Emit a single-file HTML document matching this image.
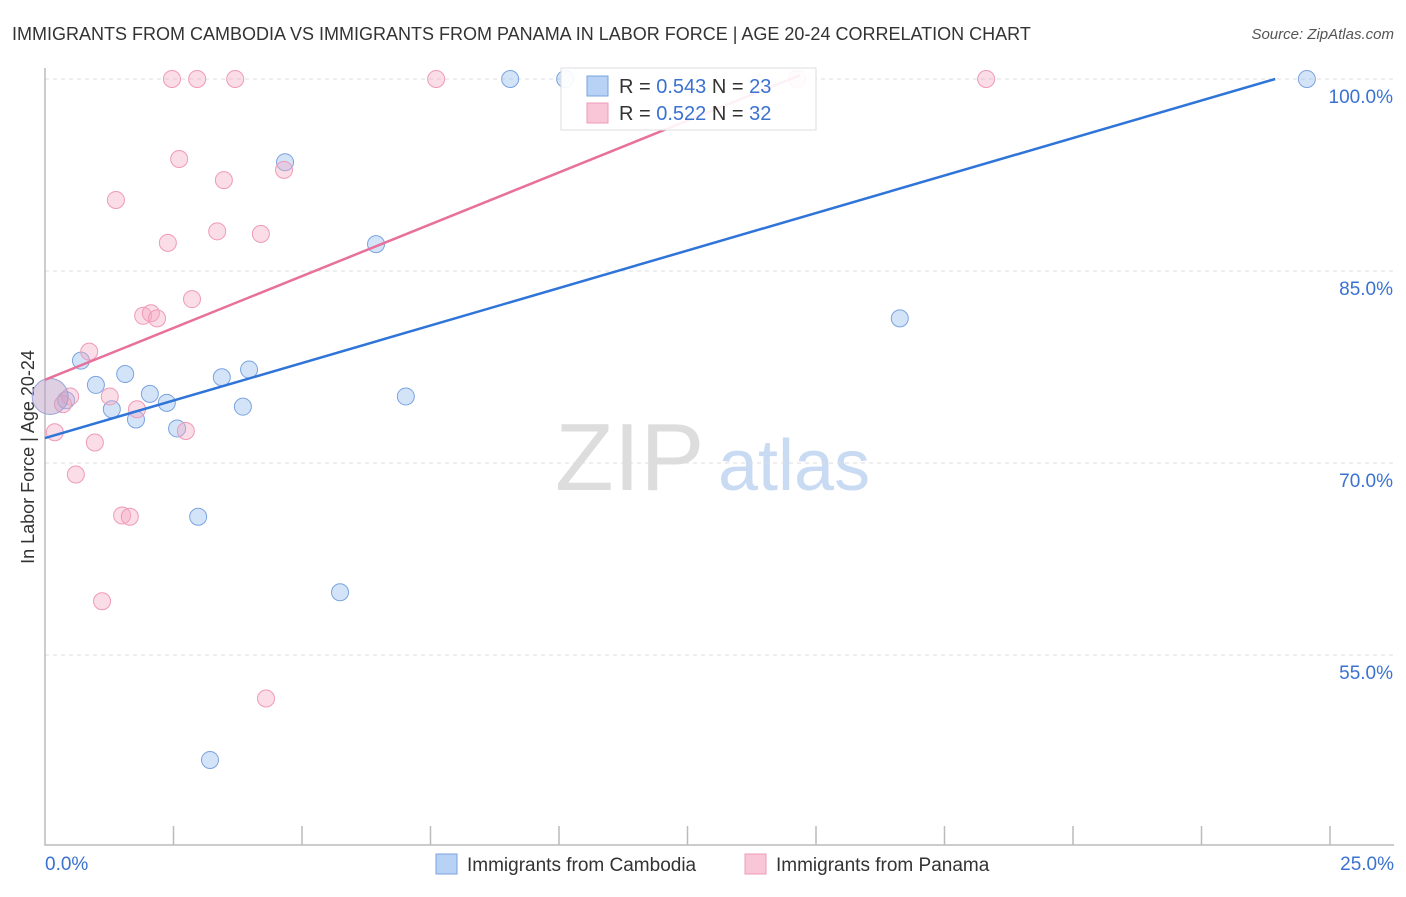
<!DOCTYPE html>
<html><head><meta charset="utf-8"><style>
body{margin:0;background:#fff;font-family:"Liberation Sans",sans-serif}
svg text{font-family:"Liberation Sans",sans-serif}
</style></head><body>
<svg id="chart" width="1406" height="892" xmlns="http://www.w3.org/2000/svg">
<text x="12" y="40" font-size="18" fill="#333">IMMIGRANTS FROM CAMBODIA VS IMMIGRANTS FROM PANAMA IN LABOR FORCE | AGE 20-24 CORRELATION CHART</text>
<text x="1394" y="39" font-size="15" fill="#555" text-anchor="end" font-style="italic">Source: ZipAtlas.com</text>
<text x="555" y="490" font-size="96" fill="#ddd" font-family="Liberation Serif">ZIP</text>
<text x="718" y="490" font-size="72" fill="#c9daf3">atlas</text>
<text transform="translate(34,457) rotate(-90)" font-size="18" fill="#333" text-anchor="middle">In Labor Force | Age 20-24</text>
<g id="grid"></g><g id="pts"></g><g id="lines"></g>
<g>
<rect x="561" y="68" width="255" height="62" fill="#fff" fill-opacity="0.9" stroke="#ddd"/>
<rect x="587" y="76" width="21" height="20" fill="#b7d2f5" stroke="#7aa3e0"/>
<text x="619" y="93" font-size="20" fill="#333">R = <tspan fill="#3a72d0">0.543</tspan>   N = <tspan fill="#3a72d0">23</tspan></text>
<rect x="587" y="103" width="21" height="20" fill="#f8c6d6" stroke="#ef9ab8"/>
<text x="619" y="120" font-size="20" fill="#333">R = <tspan fill="#3a72d0">0.522</tspan>   N = <tspan fill="#3a72d0">32</tspan></text>
</g>
<rect x="436" y="854" width="21" height="20" fill="#b7d2f5" stroke="#7aa3e0"/>
<text x="467" y="871" font-size="19" fill="#333">Immigrants from Cambodia</text>
<rect x="745" y="854" width="21" height="20" fill="#f8c6d6" stroke="#ef9ab8"/>
<text x="776" y="871" font-size="19" fill="#333">Immigrants from Panama</text>
</svg>
<script>
const yTicks=[100,85,70,55];
const xTickLabels=["0.0%","25.0%"];
const camX=[9.05,10.12,24.55,4.67,6.44,16.63,0.70,1.56,0.99,3.44,3.97,2.04,2.37,1.30,1.77,0.41,3.85,7.02,2.57,2.98,5.74,3.21];
const camY=[100,100,100,93.5,87.1,81.3,78.0,76.95,76.1,76.7,77.3,75.4,74.7,74.2,73.4,74.9,74.4,75.2,72.7,65.8,59.9,46.8];
const panX=[2.47,2.96,3.70,7.61,18.31,14.63,2.61,4.65,3.48,1.38,3.35,4.20,2.39,2.86,1.91,2.06,2.18,0.86,1.26,0.49,0.35,1.79,0.19,0.97,2.74,0.60,1.50,1.65,1.11,4.30];
const panY=[100,100,100,100,100,100,93.75,92.9,92.1,90.55,88.1,87.9,87.2,82.8,81.5,81.7,81.3,78.7,75.2,75.2,74.6,74.2,72.4,71.6,72.5,69.1,65.9,65.8,59.2,51.6];
const bigX=[0.1], bigY=[75.2];
const camLine=[71.95,1.172]; // intercept, slope
const panLine=[76.5,1.62];
const NS="http://www.w3.org/2000/svg";
const X=v=>45+v*51.4, Y=v=>79+(100-v)*12.8;
function mk(t,a,p){const e=document.createElementNS(NS,t);for(const k in a)e.setAttribute(k,a[k]);p.appendChild(e);return e;}
const g=document.getElementById('grid');
yTicks.forEach(t=>{
 const l=mk('line',{x1:45,x2:1394,y1:Y(t),y2:Y(t),stroke:'#ddd','stroke-dasharray':'4,4'},g);
 
 
 const tx=mk('text',{x:1393,y:Y(t)+24,'font-size':19,fill:'#3a72d0','text-anchor':'end'},g);
 tx.textContent=t.toFixed(1)+'%';
 
 
});
const ax=mk('path',{d:'M45 68 V845 H1394',fill:'none',stroke:'#bbb','stroke-width':1.5},g);


for(let i=1;i<=10;i++){
 const t=mk('line',{x1:X(i*2.5),x2:X(i*2.5),y1:826,y2:845,stroke:'#bbb','stroke-width':1.5},g);
 
 
}
[[45,'start',0],[1394,'end',1]].forEach(([x,a,i])=>{
 const t=mk('text',{x:x,y:870,'font-size':19,fill:'#3a72d0','text-anchor':a},g);
 t.textContent=xTickLabels[i];
 
 
});
const p=document.getElementById('pts');
camX.forEach((x,i)=>{
 const c=mk('circle',{cx:X(x),cy:Y(camY[i]),r:8.5,fill:'rgba(160,195,240,0.45)',stroke:'#7aa3e0','stroke-width':1},p);
 
 
});
panX.forEach((x,i)=>{
 const c=mk('circle',{cx:X(x),cy:Y(panY[i]),r:8.5,fill:'rgba(245,170,195,0.4)',stroke:'#ef9ab8','stroke-width':1},p);
 
 
});
bigX.forEach((x,i)=>{
 const c=mk('circle',{cx:X(x),cy:Y(bigY[i]),r:18,fill:'rgba(190,160,200,0.5)',stroke:'#9aa3d8','stroke-width':1},p);
 
 
});
const L=document.getElementById('lines');
const cx2=(100-camLine[0])/camLine[1];
const bl=mk('line',{x1:X(0),y1:Y(camLine[0]),x2:X(cx2),y2:Y(100),stroke:'#2f74d8','stroke-width':2.5},L);


const px2=(100.3-panLine[0])/panLine[1];
const pl=mk('line',{x1:X(0),y1:Y(panLine[0]),x2:X(px2),y2:Y(panLine[0]+panLine[1]*px2),stroke:'#e8719b','stroke-width':2.5},L);


</script>
</body></html>
